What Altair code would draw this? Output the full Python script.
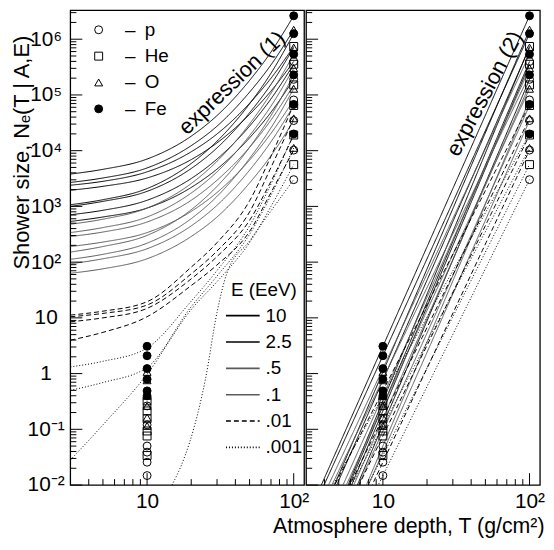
import altair as alt
import pandas as pd

FONT = "Liberation Sans"

# ---------------- data ----------------
energies = ["10", "2.5", ".5", ".1", ".01", ".001"]
nuclei = ["p", "He", "O", "Fe"]
marker_depths = [10, 100]

# log10 shower size at T = 10 and T = 100 g/cm2 (energies in the order above)
logN_at_10 = {
    "p":  [-0.58, -0.92, -1.30, -1.41, -1.59, -1.83],
    "He": [-0.49, -0.67, -0.81, -1.03, -1.12, -1.47],
    "O":  [0.03, -0.12, -0.40, -0.58, -0.79, -0.94],
    "Fe": [0.49, 0.32, 0.09, -0.10, -0.31, -0.40],
}
logN_at_100 = {
    "p":  [5.60, 5.28, 4.91, 4.54, 4.01, 3.48],
    "He": [5.87, 5.55, 5.18, 4.81, 4.28, 3.75],
    "O":  [6.17, 5.85, 5.48, 5.11, 4.58, 4.05],
    "Fe": [6.42, 6.10, 5.73, 5.36, 4.83, 4.30],
}

# expression (1) curves: log10 N read at these depths
curve_T = [3, 5, 10, 20, 30, 50, 70, 100]
expr1_E10 = {
    "Fe": [3.58, 3.665, 3.85, 4.26, 4.63, 5.26, 5.77, 6.42],
    "O":  [3.43, 3.51, 3.69, 4.09, 4.44, 5.05, 5.54, 6.17],
    "He": [3.38, 3.45, 3.62, 3.98, 4.30, 4.85, 5.30, 5.87],
    "p":  [3.29, 3.36, 3.51, 3.84, 4.14, 4.65, 5.07, 5.60],
}
expr1_E2_5 = {
    "Fe": [3.03, 3.12, 3.32, 3.77, 4.17, 4.84, 5.39, 6.10],
    "O":  [3.00, 3.09, 3.27, 3.68, 4.05, 4.68, 5.19, 5.85],
    "He": [2.85, 2.93, 3.11, 3.50, 3.85, 4.44, 4.93, 5.55],
    "p":  [2.73, 2.81, 2.97, 3.34, 3.67, 4.23, 4.69, 5.28],
}
expr1_E0_5 = {
    "Fe": [2.68, 2.77, 2.97, 3.41, 3.81, 4.48, 5.03, 5.73],
    "O":  [2.53, 2.62, 2.81, 3.24, 3.62, 4.27, 4.80, 5.48],
    "He": [2.46, 2.54, 2.72, 3.11, 3.47, 4.06, 4.55, 5.18],
    "p":  [2.28, 2.36, 2.53, 2.91, 3.25, 3.83, 4.31, 4.91],
}
expr1_E0_1 = {
    "Fe": [2.18, 2.28, 2.48, 2.94, 3.36, 4.06, 4.63, 5.36],
    "O":  [2.05, 2.14, 2.34, 2.78, 3.18, 3.86, 4.41, 5.11],
    "He": [1.97, 2.06, 2.24, 2.65, 3.02, 3.65, 4.16, 4.81],
    "p":  [1.80, 1.88, 2.06, 2.46, 2.81, 3.42, 3.91, 4.54],
}
expr1_E0_01 = {
    "Fe": [1.05, 1.12, 1.29, 1.91, 2.35, 3.10, 3.90, 4.83],
    "O":  [1.02, 1.08, 1.23, 1.79, 2.20, 2.90, 3.70, 4.58],
    "He": [0.93, 1.00, 1.17, 1.70, 2.10, 2.75, 3.45, 4.28],
    "p":  [0.60, 0.74, 1.02, 1.58, 1.95, 2.55, 3.25, 4.01],
}
expr1_E0_001 = {
    "Fe": [0.12, 0.22, 0.46, 1.30, 1.85, 2.65, 3.40, 4.30],
    "O":  [-0.30, -0.16, 0.11, 1.20, 1.75, 2.50, 3.20, 4.05],
    "He": [-1.55, -0.92, -0.01, 1.15, 1.65, 2.35, 3.00, 3.75],
}
expr1_E0_001_p_T = [14.8, 18, 21, 25, 30, 35, 50, 70, 100]
expr1_E0_001_p = [-2.0, -1.5, -0.95, -0.1, 1.1, 1.8, 2.38, 2.92, 3.48]

# axes: domains, ticks and labels
x_domain = [3, 118]
y_domain = [0.01, 3.28e6]
y_major = [0.01, 0.1, 1, 10, 100, 1e3, 1e4, 1e5, 1e6]
y_labels = ["10⁻²", "10⁻¹", "1", "10", "10²", "10³", "10⁴", "10⁵", "10⁶"]
y_minor = [m * 10.0 ** d for d in range(-2, 7) for m in range(2, 10) if m * 10.0 ** d < 3.2e6]
x_major = [10, 100]
x_labels = ["10", "10²"]
x_minor = [4, 5, 6, 7, 8, 9, 20, 30, 40, 50, 60, 70, 80, 90]
energy_legend_title = ["E (EeV)"]

# ---------------- tables ----------------
mrows = []
for a in nuclei:
    for i, e in enumerate(energies):
        mrows.append({"A": a, "E": e, "T": marker_depths[0], "logN": logN_at_10[a][i]})
        mrows.append({"A": a, "E": e, "T": marker_depths[1], "logN": logN_at_100[a][i]})
markers = pd.DataFrame(mrows)

crows = []
for e, tab in zip(energies, [expr1_E10, expr1_E2_5, expr1_E0_5, expr1_E0_1, expr1_E0_01, expr1_E0_001]):
    for a, vals in tab.items():
        for t, v in zip(curve_T, vals):
            crows.append({"A": a, "E": e, "T": t, "logN": v})
for t, v in zip(expr1_E0_001_p_T, expr1_E0_001_p):
    crows.append({"A": "p", "E": ".001", "T": t, "logN": v})
curves = pd.DataFrame(crows)

frame = pd.DataFrame({"T": [x_domain[0]], "T2": [x_domain[1]], "N": [y_domain[0]], "N2": [y_domain[1]]})

# ---------------- layout ----------------
PW, GAP, H = 236, 2, 479
W = 2 * PW + GAP
xsL = alt.Scale(type="log", domain=x_domain, range=[0, PW], nice=False)
xsR = alt.Scale(type="log", domain=x_domain, range=[PW + GAP, W], nice=False)
ys = alt.Scale(type="log", domain=y_domain, nice=False)
dash_scale = alt.Scale(domain=energies, range=[[1, 0], [1, 0], [1, 0], [1, 0], [5, 3], [1, 2]])
color_scale = alt.Scale(domain=energies, range=["black", "black", "#5a5a5a", "#5a5a5a", "black", "black"])
shape_scale = alt.Scale(domain=nuclei, range=["circle", "square", "triangle-up", "circle"])
fill_scale = alt.Scale(domain=nuclei, range=["transparent", "transparent", "transparent", "black"])
stroke_scale = alt.Scale(domain=nuclei, range=["black", "black", "black", "black"])

ylab_expr = "[" + ",".join("'%s'" % s for s in y_labels) + "][round(log(datum.value)/LN10)+2]"
xlab_expr = "datum.value < 50 ? '%s' : '%s'" % (x_labels[0], x_labels[1])

yaxis = alt.Axis(values=y_major, labelExpr=ylab_expr, ticks=False, tickSize=0, domain=False,
                 grid=False, labelFont=FONT, labelFontSize=21, labelColor="black",
                 labelAlign="center", labelBaseline="middle", labelPadding=25,
                 title="Shower size, Nₑ(T | A,E)", titleFont=FONT, titleFontSize=22,
                 titleFontWeight="normal", titleColor="black", titleAngle=270,
                 titleX=-49, titleY=143, titleAlign="center", titleBaseline="middle")
xaxisL = alt.Axis(values=x_major, labelExpr=xlab_expr, orient="bottom", ticks=False, tickSize=0,
                  domain=False, grid=False, labelFont=FONT, labelFontSize=21, labelColor="black",
                  labelPadding=6, labelFlush=False, title=None)
xaxisR = alt.Axis(values=x_major, labelExpr=xlab_expr, orient="bottom", ticks=False, tickSize=0,
                  domain=False, grid=False, labelFont=FONT, labelFontSize=21, labelColor="black",
                  labelPadding=6, labelFlush=False,
                  title="Atmosphere depth, T (g/cm²)", titleFont=FONT, titleFontSize=21.5,
                  titleFontWeight="normal", titleColor="black", titleX=W + 4, titleY=42,
                  titleAlign="right", titleBaseline="middle")

a_legend = alt.Legend(title=None, orient="none", legendX=19, legendY=10, padding=0,
                      labelExpr="'–\u2002' + datum.label", symbolSize=64, symbolStrokeWidth=1,
                      labelFont=FONT, labelFontSize=19, labelColor="black",
                      labelOffset=17, rowPadding=6.6)


def panel(xs, xaxis, x0, lines, legend_a, text, text_x, text_y, text_angle):
    box = alt.Chart(frame).mark_rect(fill="transparent", stroke="black", strokeWidth=1.3).encode(
        x=alt.X("T:Q", scale=xs, axis=xaxis), x2="T2:Q",
        y=alt.Y("N:Q", scale=ys, axis=yaxis), y2="N2:Q")
    ymaj = alt.Chart(pd.DataFrame({"N": y_major})).mark_rule(color="black", strokeWidth=1).encode(
        y=alt.Y("N:Q", scale=ys, axis=yaxis), x=alt.value(x0), x2=alt.value(x0 + 12))
    ymin = alt.Chart(pd.DataFrame({"N": y_minor})).mark_rule(color="black", strokeWidth=1).encode(
        y=alt.Y("N:Q", scale=ys, axis=yaxis), x=alt.value(x0), x2=alt.value(x0 + 6))
    xmaj = alt.Chart(pd.DataFrame({"T": x_major})).mark_rule(color="black", strokeWidth=1).encode(
        x=alt.X("T:Q", scale=xs, axis=xaxis), y=alt.value(H), y2=alt.value(H - 12))
    xmin = alt.Chart(pd.DataFrame({"T": x_minor})).mark_rule(color="black", strokeWidth=1).encode(
        x=alt.X("T:Q", scale=xs, axis=xaxis), y=alt.value(H), y2=alt.value(H - 6))
    pts = alt.Chart(markers).transform_calculate(N="pow(10, datum.logN)").mark_point(
        filled=True, strokeWidth=1, size=64, opacity=1).encode(
        x=alt.X("T:Q", scale=xs, axis=xaxis),
        y=alt.Y("N:Q", scale=ys, axis=yaxis),
        shape=alt.Shape("A:N", scale=shape_scale, legend=legend_a),
        fill=alt.Fill("A:N", scale=fill_scale, legend=legend_a),
        stroke=alt.Stroke("A:N", scale=stroke_scale, legend=legend_a),
    )
    txt = alt.Chart(pd.DataFrame({"label": [text]})).mark_text(
        font=FONT, fontSize=22, angle=text_angle, align="center", baseline="middle",
        color="black").encode(text="label:N", x=alt.value(text_x), y=alt.value(text_y))
    return alt.layer(box, lines, ymaj, ymin, xmaj, xmin, pts, txt)


curves_left = alt.Chart(curves).transform_calculate(N="pow(10, datum.logN)").mark_line(
    strokeWidth=1, clip=True, interpolate="monotone").encode(
    x=alt.X("T:Q", scale=xsL, axis=xaxisL),
    y=alt.Y("N:Q", scale=ys, axis=yaxis),
    strokeDash=alt.StrokeDash("E:N", scale=dash_scale, legend=None),
    color=alt.Color("E:N", scale=color_scale, legend=None),
    detail="A:N",
    order="T:Q",
)

lines_right = alt.Chart(markers).transform_calculate(N="pow(10, datum.logN)").transform_regression(
    "T", "N", method="pow", groupby=["A", "E"], extent=[3, 100]).mark_line(
    strokeWidth=1, clip=True).encode(
    x=alt.X("T:Q", scale=xsR, axis=xaxisR),
    y=alt.Y("N:Q", scale=ys, axis=yaxis),
    strokeDash=alt.StrokeDash("E:N", scale=dash_scale, legend=None),
    color=alt.Color("E:N", scale=color_scale, legend=None),
    detail="A:N",
)

left = panel(xsL, xaxisL, 0, curves_left, a_legend, "expression (1)", 163, 73, 316)
right = panel(xsR, xaxisR, PW + GAP, lines_right, None, "expression (2)", PW + GAP + 180, 84, 298)

main = alt.layer(left, right).resolve_scale(
    x="independent", color="independent", strokeDash="independent",
    shape="independent", fill="independent", stroke="independent").resolve_axis(
    x="independent").resolve_legend(
    shape="independent", fill="independent", stroke="independent")

# energy legend (line-style key) drawn inside the left panel
row_scale = alt.Scale(type="point", domain=energies, range=[308, 441], padding=0)
leg_df = pd.DataFrame({"E": energies})
leg_lines = alt.Chart(leg_df).mark_rule(strokeWidth=1.6).encode(
    y=alt.Y("E:N", scale=row_scale, axis=None),
    x=alt.value(157), x2=alt.value(191),
    strokeDash=alt.StrokeDash("E:N", scale=dash_scale, legend=None),
    color=alt.Color("E:N", scale=color_scale, legend=None),
)
leg_labels = alt.Chart(leg_df).mark_text(font=FONT, fontSize=19, align="left", baseline="middle",
                                         color="black").encode(
    y=alt.Y("E:N", scale=row_scale, axis=None), x=alt.value(197), text="E:N")
leg_title = alt.Chart(pd.DataFrame({"t": energy_legend_title})).mark_text(
    font=FONT, fontSize=19, align="left", baseline="middle", color="black").encode(
    text="t:N", x=alt.value(162), y=alt.value(282))
energy_key = alt.layer(leg_lines, leg_labels, leg_title)

chart = alt.layer(main, energy_key).resolve_scale(
    y="independent", color="independent", strokeDash="independent").properties(
    width=W, height=H, background="white",
    autosize=alt.AutoSizeParams(type="none"),
    padding={"left": 63, "top": 0, "right": 6, "bottom": 55}).configure_view(stroke=None)

chart.save("out.html", embed_options={"renderer": "svg", "actions": False})
